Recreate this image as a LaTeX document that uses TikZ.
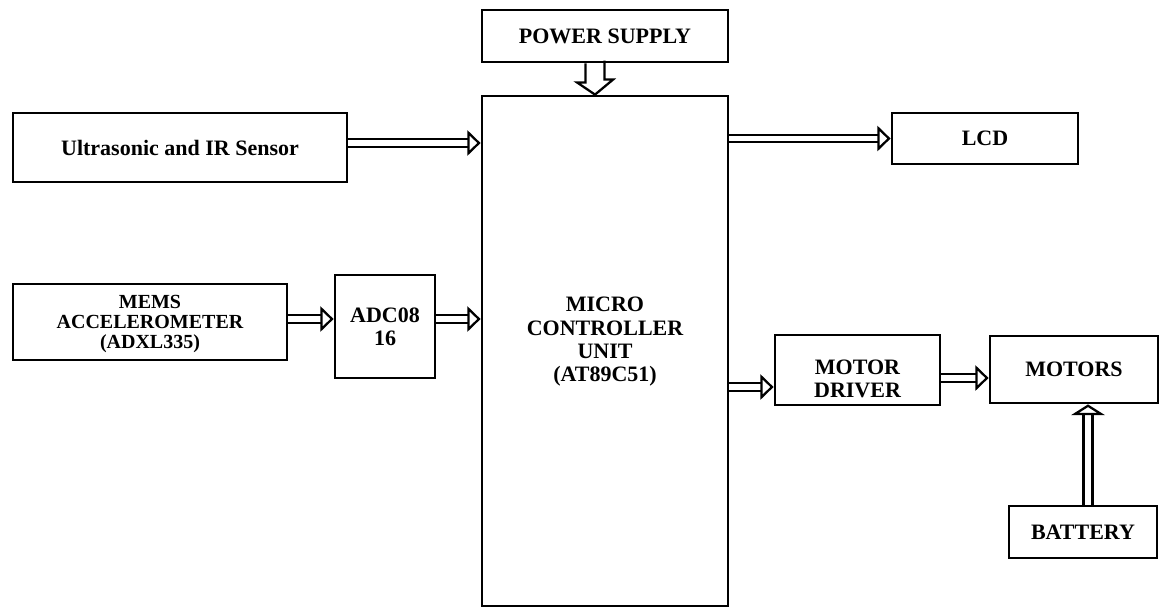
\documentclass[tikz,border=0pt]{standalone}
\usepackage{fontspec}
\setmainfont{Liberation Serif}
\usetikzlibrary{arrows.meta,calc}
\tikzset{
  txt/.style={font=\fontsize{16.5}{17.5}\selectfont\bfseries, align=center},
  blk/.style={draw, line width=2.1pt, inner sep=0pt, txt},
  dbl/.style={double, line width=1.7pt, double distance=4pt,
    -{Triangle[open, length=10pt, width=19pt, line width=1.7pt]}},
  vdbl/.style={double, line width=1.7pt, double distance=5pt,
    -{Triangle[open, length=8pt, width=25pt, line width=1.7pt]}},
}
\begin{document}
\begin{tikzpicture}[x=0.75pt, y=-0.75pt]
\useasboundingbox (0,0) rectangle (1162,608);
\node[blk, minimum width=246*0.75pt, minimum height=52*0.75pt] (ps) at (605,36) {POWER SUPPLY};
\node[blk, minimum width=246*0.75pt, minimum height=510*0.75pt] (mcu) at (605,351) {};
\node[txt] (mcutxt) at (605,342) {MICRO\\CONTROLLER\\UNIT\\(AT89C51)};
\node[blk, minimum width=334*0.75pt, minimum height=69*0.75pt] (us) at (180,147.5) {Ultrasonic and IR Sensor};
\node[blk, minimum width=274*0.75pt, minimum height=76*0.75pt] (mems) at (150,322) {};
\node[txt, font=\fontsize{15}{15}\selectfont\bfseries] (memstxt) at (150,324) {MEMS\\ACCELEROMETER\\(ADXL335)};
\node[blk, minimum width=100*0.75pt, minimum height=103*0.75pt] (adc) at (385,326.5) {ADC08\\16};
\node[blk, minimum width=186*0.75pt, minimum height=51*0.75pt] (lcd) at (985,138.5) {LCD};
\node[blk, minimum width=165*0.75pt, minimum height=70*0.75pt] (md) at (857.5,370) {};
\node[txt] (mdtxt) at (857.5,379) {MOTOR\\DRIVER};
\node[blk, minimum width=168*0.75pt, minimum height=67*0.75pt] (mot) at (1074,369.5) {MOTORS};
\node[blk, minimum width=148*0.75pt, minimum height=52*0.75pt] (bat) at (1083,532) {BATTERY};

% power supply block arrow
\draw[line width=1.7pt, line join=miter]
  ($(ps.south)+(-19.5,0)$) -- ++(0,19) -- ++(-8.5,0)
  -- ($(mcu.north)+(-10,0)$) -- ++(18,-15) -- ++(-8.5,0) -- ++(0,-19);
\coordinate (a1) at ($(us.east)+(0,-4.5)$);
\coordinate (a2) at ($(mems.east)+(0,-3)$);
\coordinate (a3) at ($(adc.east)+(0,-7.5)$);
\coordinate (a4) at ($(md.west)+(0,17)$);
\coordinate (a5) at ($(md.east)+(0,8)$);
\coordinate (a6) at ($(bat.north)+(5,0)$);
\draw[dbl] (a1) -- (mcu.west |- a1);
\draw[dbl] (a2) -- (adc.west |- a2);
\draw[dbl] (a3) -- (mcu.west |- a3);
\draw[dbl] (mcu.east |- lcd.west) -- (lcd.west);
\draw[dbl] (mcu.east |- a4) -- (a4);
\draw[dbl] (a5) -- (mot.west |- a5);
\draw[vdbl] (a6) -- (mot.south -| a6);
\end{tikzpicture}
\end{document}
